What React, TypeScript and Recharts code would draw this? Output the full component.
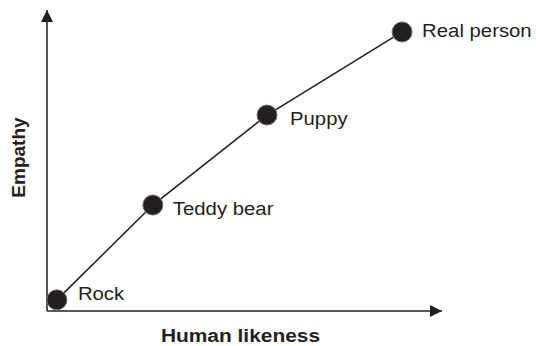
import { LineChart, Line, XAxis, YAxis, Label, LabelList } from "recharts";

const names = ["Rock", "Teddy bear", "Puppy", "Real person"];
const humanLikeness = [2.5, 26.8, 55.7, 89.9];
const empathy = [3.7, 35.2, 65.1, 92.7];

const data = names.map((name, i) => ({
  name,
  likeness: humanLikeness[i],
  empathy: empathy[i],
}));

// nudges for each point's label (dx, baseline dy)
const labelNudge = [
  [21, 0],
  [20, 10],
  [23, 10],
  [20, 5],
];

const FONT = "'Liberation Sans', Arial, Helvetica, sans-serif";

const PointLabel = (props: any) => {
  const { x, y, value, index } = props;
  const [dx, dy] = labelNudge[index] || [20, 5];
  return (
    <text
      transform={`translate(${x + dx},${y + dy}) scale(1.13,1)`}
      fontFamily={FONT}
      fontSize={18}
      fill="#231f20"
    >
      {value}
    </text>
  );
};

const EmpathyTitle = (props: any) => {
  const { viewBox } = props;
  const cx = viewBox.x + viewBox.width - 22;
  const cy = viewBox.y + viewBox.height / 2 - 3;
  return (
    <text
      x={cx}
      y={cy}
      transform={`rotate(-90, ${cx}, ${cy})`}
      textAnchor="middle"
      fontFamily={FONT}
      fontSize={19}
      fontWeight="bold"
      fill="#231f20"
    >
      Empathy
    </text>
  );
};

const LikenessTitle = (props: any) => {
  const { viewBox } = props;
  const cx = viewBox.x + viewBox.width / 2 - 4;
  const cy = viewBox.y + 31;
  return (
    <text
      transform={`translate(${cx},${cy}) scale(1.1,1)`}
      textAnchor="middle"
      fontFamily={FONT}
      fontSize={19}
      fontWeight="bold"
      fill="#231f20"
    >
      Human likeness
    </text>
  );
};

export default function App() {
  return (
    <div style={{ position: "absolute", left: 0, top: 0, background: "#fff" }}>
      <LineChart
        width={536}
        height={346}
        data={data}
        margin={{ top: 10, right: 94, left: 0, bottom: 0 }}
      >
        <defs>
          <marker
            id="arrowHead"
            viewBox="0 0 12 12"
            refX={12}
            refY={6}
            markerWidth={12}
            markerHeight={12}
            markerUnits="userSpaceOnUse"
            orient="auto-start-reverse"
          >
            <path d="M0,0 L12,6 L0,12 z" fill="#231f20" />
          </marker>
        </defs>
        <XAxis
          type="number"
          dataKey="likeness"
          domain={[0, 100]}
          height={35}
          tick={false}
          tickLine={false}
          axisLine={{ stroke: "#231f20", strokeWidth: 1.5, markerEnd: "url(#arrowHead)" } as any}
        >
          <Label content={<LikenessTitle />} />
        </XAxis>
        <YAxis
          type="number"
          dataKey="empathy"
          domain={[0, 100]}
          width={47}
          tick={false}
          tickLine={false}
          axisLine={{ stroke: "#231f20", strokeWidth: 1.5, markerStart: "url(#arrowHead)" } as any}
        >
          <Label content={<EmpathyTitle />} />
        </YAxis>
        <Line
          type="linear"
          dataKey="empathy"
          stroke="#231f20"
          strokeWidth={1.5}
          isAnimationActive={false}
          dot={{ r: 10, fill: "#231f20", stroke: "#6d6e71", strokeWidth: 1 }}
          activeDot={false}
        >
          <LabelList dataKey="name" content={<PointLabel />} />
        </Line>
      </LineChart>
    </div>
  );
}
